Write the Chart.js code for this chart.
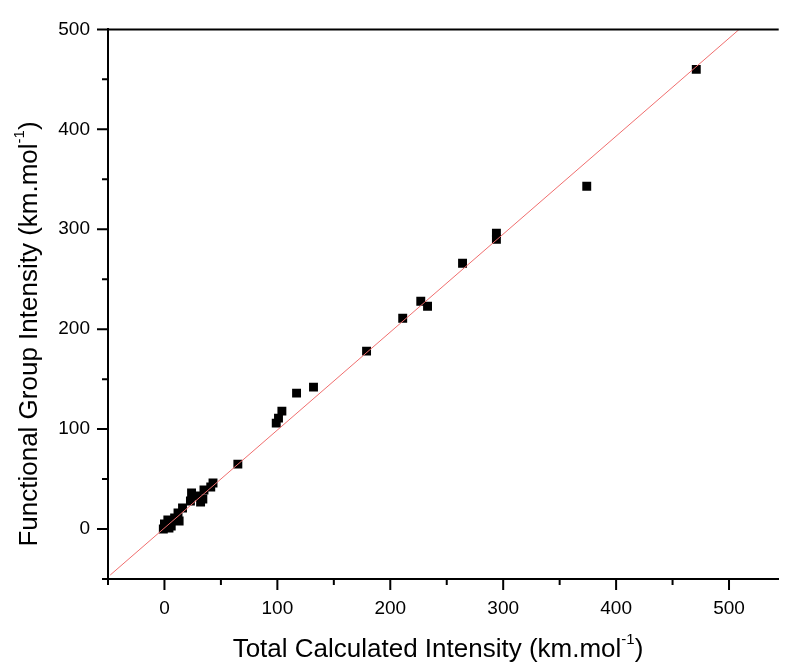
<!DOCTYPE html>
<html>
<head>
<meta charset="utf-8">
<script src="https://cdn.jsdelivr.net/npm/chart.js@4.4.1/dist/chart.umd.min.js"></script>
<style>
  body { margin: 0; background: #fff; }
  #chart { display: block; }
</style>
</head>
<body>
<canvas id="chart" width="785" height="670"></canvas>
<script>
// total calculated intensity vs functional group intensity (km.mol-1)
const totalX = [471, 374, 294, 294, 264, 227, 233, 211, 179, 132, 117, 104, 101, 99, 65,
    43, 41, 35, 29, 24, 23, 32, 34, 16, 12, 9, 13, 3, 0, -1, 4, 6, 1];
const groupY = [460, 343, 296, 290, 266, 228, 223, 211, 178, 142, 136, 118, 111, 106, 65,
    46, 42, 39, 33, 36, 28, 27, 30, 21, 16, 11, 8, 9, 5, 0, 1, 3, 2];

// fitted line end points
const fitX = [-48, 509];
const fitY = [-46, 500];

const tickValues = [-50, 0, 50, 100, 150, 200, 250, 300, 350, 400, 450, 500];

const xTitle = 'Total Calculated Intensity (km.mol';
const yTitle = 'Functional Group Intensity (km.mol';

function toPoints(xs, ys) {
    let pts = [];
    for (let i = 0; i < xs.length; i++) {
        pts.push({x: xs[i], y: ys[i]});
    }
    return pts;
}

function setTicks(scale) {
    scale.ticks = tickValues.map(function(v) { return {value: v}; });
}

function label(v) {
    return v % 100 === 0 ? String(v) : '';
}

// draws the tick marks (major / minor), the top frame line and the axis titles
const framePlugin = {
    id: 'frame',
    afterDraw: function(chart) {
        const ctx = chart.ctx;
        const area = chart.chartArea;
        const xs = chart.scales.x;
        const ys = chart.scales.y;
        ctx.save();
        ctx.strokeStyle = '#000';
        ctx.lineWidth = 2;
        ctx.beginPath();
        ctx.moveTo(area.left, area.top);
        ctx.lineTo(area.right, area.top);
        tickValues.forEach(function(v) {
            let len = v % 100 === 0 ? 11 : 6;
            let px = xs.getPixelForValue(v);
            ctx.moveTo(px, area.bottom);
            ctx.lineTo(px, area.bottom + len);
            let py = ys.getPixelForValue(v);
            ctx.moveTo(area.left, py);
            ctx.lineTo(area.left - len, py);
        });
        ctx.stroke();

        ctx.fillStyle = '#000';
        ctx.textBaseline = 'middle';
        const big = '26px "Liberation Sans", Arial, sans-serif';
        const small = '15px "Liberation Sans", Arial, sans-serif';

        function drawTitle(text, cx, cy) {
            ctx.font = big;
            let w1 = ctx.measureText(text).width;
            let w3 = ctx.measureText(')').width;
            ctx.font = small;
            let w2 = ctx.measureText('-1').width;
            let x0 = cx - (w1 + w2 + w3) / 2;
            ctx.textAlign = 'left';
            ctx.font = big;
            ctx.fillText(text, x0, cy);
            ctx.font = small;
            ctx.fillText('-1', x0 + w1, cy - 10);
            ctx.font = big;
            ctx.fillText(')', x0 + w1 + w2, cy);
        }

        drawTitle(xTitle, 438, 650);

        ctx.translate(30, 334);
        ctx.rotate(-Math.PI / 2);
        drawTitle(yTitle, 0, 0);
        ctx.restore();
    }
};

const tickFont = {family: '"Liberation Sans", Arial, sans-serif', size: 19};

new Chart(document.getElementById('chart'), {
    type: 'scatter',
    data: {
        datasets: [
            {
                type: 'line',
                data: toPoints(fitX, fitY),
                borderColor: 'rgb(240, 110, 110)',
                borderWidth: 1,
                pointRadius: 0,
                fill: false
            },
            {
                data: toPoints(totalX, groupY),
                pointStyle: 'rect',
                pointRadius: 6.3,
                backgroundColor: '#000',
                borderWidth: 0
            }
        ]
    },
    options: {
        responsive: false,
        animation: false,
        layout: {
            padding: {top: 24, right: 0, bottom: 0, left: 0}
        },
        plugins: {
            legend: {display: false},
            tooltip: {enabled: false}
        },
        scales: {
            x: {
                type: 'linear',
                min: -50,
                max: 544,
                afterBuildTicks: setTicks,
                afterFit: function(scale) { scale.height = 91; },
                grid: {display: false, drawTicks: false},
                border: {display: true, color: '#000', width: 2},
                ticks: {
                    color: '#000',
                    font: tickFont,
                    padding: 18,
                    maxRotation: 0,
                    autoSkip: false,
                    callback: label
                }
            },
            y: {
                type: 'linear',
                min: -50,
                max: 500,
                afterBuildTicks: setTicks,
                afterFit: function(scale) { scale.width = 108; },
                grid: {display: false, drawTicks: false},
                border: {display: true, color: '#000', width: 2},
                ticks: {
                    color: '#000',
                    font: tickFont,
                    padding: 18,
                    autoSkip: false,
                    callback: label
                }
            }
        }
    },
    plugins: [framePlugin]
});
</script>
</body>
</html>
